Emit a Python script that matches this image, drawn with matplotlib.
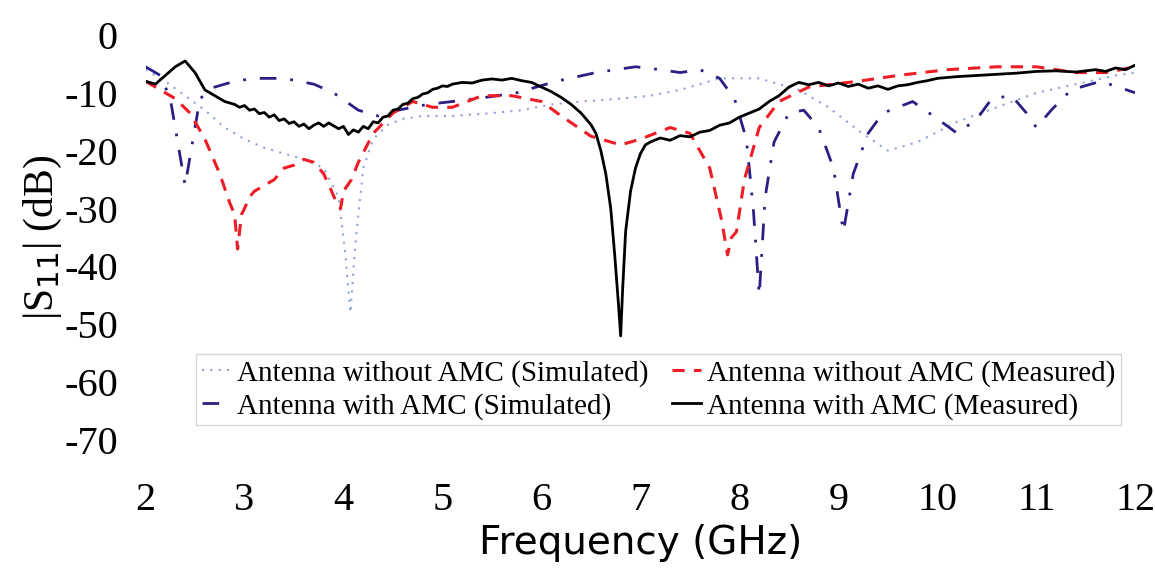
import matplotlib.pyplot as plt

# Antenna without AMC (Simulated) - light dotted
f_sim_no = [2.0, 2.2, 2.4, 2.6, 2.8, 3.0, 3.2, 3.4, 3.6, 3.8, 3.95, 4.02, 4.07, 4.12, 4.2, 4.3,
            4.45, 4.6, 4.8, 5.1, 5.5, 5.8, 6.1, 6.4, 6.8, 7.1, 7.4, 7.8, 8.2, 8.6, 8.9, 9.2,
            9.5, 9.8, 10.2, 10.6, 11.0, 11.4, 11.8, 12.0]
s_sim_no = [-6, -8, -10.5, -13, -16, -18, -19.5, -20.5, -21.5, -23, -28, -38, -48, -36, -23, -18,
            -15.5, -14.5, -14, -14, -13.5, -13, -12, -11.5, -11, -10.5, -9.5, -7.5, -7.5, -9.5, -12.5, -16.5,
            -20, -18.5, -15, -12.5, -10, -8.5, -7, -6.5]

# Antenna with AMC (Simulated) - dash-dot
f_sim_amc = [2.0, 2.15, 2.25, 2.33, 2.4, 2.47, 2.55, 2.7, 2.9, 3.1, 3.4, 3.7, 3.9, 4.15, 4.35, 4.55,
             4.85, 5.35, 5.75, 6.15, 6.55, 6.95, 7.2, 7.4, 7.6, 7.8, 7.95, 8.07, 8.14, 8.2, 8.26, 8.35,
             8.5, 8.65, 8.8, 8.95, 9.05, 9.15, 9.3, 9.45, 9.75, 10.0, 10.2, 10.4, 10.55, 10.75, 10.9,
             11.0, 11.15, 11.35, 11.65, 12.0]
s_sim_amc = [-5.5, -7, -11, -19, -26, -19, -11, -9, -8, -7.5, -7.5, -8.5, -10, -13, -14, -13,
             -12, -11, -10, -8, -6.5, -5.5, -6, -6.5, -6, -7.5, -11, -18, -30, -45, -28, -18.5,
             -13.5, -13, -16, -23, -34, -24, -17, -13.5, -11.5, -14.5, -17, -14.5, -11, -10.5, -13.5,
             -16, -13, -9.5, -8, -10]

# Antenna without AMC (Measured) - red dashed
f_meas_no = [2.0, 2.15, 2.3, 2.45, 2.6, 2.75, 2.85, 2.9, 2.93, 2.97, 3.0, 3.05, 3.1, 3.2, 3.3, 3.4,
             3.5, 3.6, 3.7, 3.8, 3.88, 3.93, 3.97, 4.0, 4.08, 4.15, 4.3, 4.5, 4.7, 4.9, 5.1, 5.4,
             5.7, 6.0, 6.2, 6.5, 6.8, 7.0, 7.3, 7.5, 7.7, 7.82, 7.88, 7.92, 7.97, 8.05, 8.2, 8.4,
             8.7, 9.2, 9.6, 10.1, 10.6, 11.0, 11.4, 11.7, 12.0]
s_meas_no = [-8, -9.5, -11, -13.5, -18, -24, -29, -31, -37, -31, -30, -28, -27, -26, -25, -23,
             -22.5, -21.5, -22, -24, -27, -29, -30, -27, -25, -22, -17, -13.5, -11.5, -12.5, -12.5, -10.5,
             -10.5, -11.5, -14, -17.5, -19, -18, -16, -17, -23, -32, -38, -35, -34, -25, -16, -11.5,
             -9, -8, -7, -6, -5.5, -5.5, -6.5, -6.5, -5.5]

# Antenna with AMC (Measured) - black solid, with its small ripples
f_meas_amc = [2.0, 2.1, 2.2, 2.3, 2.4, 2.5, 2.6, 2.7, 2.75, 2.8, 2.9, 2.95, 3.0, 3.05, 3.1, 3.15,
              3.2, 3.25, 3.3, 3.35, 3.4, 3.45, 3.5, 3.55, 3.6, 3.65, 3.7, 3.75, 3.8, 3.85, 3.9,
              3.95, 4.0, 4.05, 4.1, 4.15, 4.2, 4.25, 4.3, 4.35, 4.4, 4.45, 4.5, 4.55, 4.6, 4.65,
              4.7, 4.75, 4.8, 4.85, 4.9, 4.95, 5.0, 5.05, 5.1, 5.2, 5.3, 5.4, 5.5, 5.6, 5.7, 5.8,
              5.9, 6.0, 6.1, 6.2, 6.3, 6.4, 6.5, 6.55, 6.6, 6.65, 6.7, 6.74, 6.78, 6.8, 6.82, 6.85,
              6.9, 6.95, 7.0, 7.05, 7.1, 7.2, 7.3, 7.4, 7.5, 7.6, 7.7, 7.8, 7.9, 8.0, 8.1, 8.2,
              8.3, 8.4, 8.5, 8.6, 8.7, 8.8, 8.9, 9.0, 9.1, 9.2, 9.3, 9.4, 9.5, 9.6, 9.7, 9.8,
              9.9, 10.0, 10.2, 10.4, 10.6, 10.8, 11.0, 11.2, 11.4, 11.6, 11.7, 11.8, 11.9, 12.0]
s_meas_amc = [-8, -8.5, -7, -5.5, -4.5, -6.5, -9.5, -10.5, -11, -11.5, -12, -12.5, -12.2, -13, -12.8, -13.6,
              -13.4, -14.2, -13.8, -14.8, -14.5, -15.3, -15, -15.8, -15.4, -16.2, -15.6, -15.2, -15.8, -15.2, -15.7,
              -16.2, -15.8, -17.2, -16.4, -16.8, -15.8, -16.2, -15, -15.2, -14.2, -14, -13, -12.8, -12, -11.8,
              -11, -10.8, -10.2, -10, -9.4, -9.2, -8.8, -8.9, -8.5, -8.2, -8.3, -7.8, -7.6, -7.8, -7.5, -7.9,
              -8.2, -9, -9.8, -10.8, -12, -13.5, -15.5, -17, -20, -24, -30, -38, -47, -52, -44, -34,
              -27, -23, -20.5, -19, -18.5, -17.8, -18.2, -17.4, -17.6, -16.8, -16.5, -15.6, -15.2, -14.2, -13.5, -12.8,
              -11.5, -10.5, -9, -8.2, -8.6, -8.2, -8.8, -8.3, -8.9, -8.5, -9.2, -8.8, -9.4, -8.8, -8.6, -8.2,
              -7.9, -7.5, -7.2, -7, -6.8, -6.6, -6.3, -6.2, -6.4, -6, -6.3, -5.7, -6, -5.2]

x_ticks = [2, 3, 4, 5, 6, 7, 8, 9, 10, 11, 12]
y_ticks = [0, -10, -20, -30, -40, -50, -60, -70]

plt.rcParams['font.family'] = ['Liberation Serif', 'DejaVu Serif']
plt.rcParams['axes.unicode_minus'] = False

fig = plt.figure(figsize=(11.55, 5.73), dpi=100)
ax = fig.add_axes([0.126, 0.232, 0.857, 0.707])

ax.plot(f_sim_no, s_sim_no, color='#8fa3d6', linestyle=(0, (1, 3)), linewidth=1.5,
        label='Antenna without AMC (Simulated)')
ax.plot(f_sim_amc, s_sim_amc, color='#2b1f86', linestyle=(0, (6, 5, 1, 5)), linewidth=2,
        label='Antenna with AMC (Simulated)')
ax.plot(f_meas_no, s_meas_no, color='#ee1c25', linestyle=(0, (4, 3)), linewidth=2.2,
        label='Antenna without AMC (Measured)')
ax.plot(f_meas_amc, s_meas_amc, color='black', linewidth=2,
        label='Antenna with AMC (Measured)')

ax.set_xlim(2, 12)
ax.set_ylim(-70, 0)
ax.set_xticks(x_ticks)
ax.set_yticks(y_ticks)
ax.tick_params(axis='both', length=0, labelsize=29)
ax.tick_params(axis='x', pad=30)
ax.tick_params(axis='y', pad=20)
for s in ax.spines.values():
    s.set_visible(False)

ax.set_ylabel('|S$_{11}$| (dB)', fontsize=30, labelpad=0)
ax.set_xlabel('Frequency (GHz)', fontsize=28, family='DejaVu Sans', labelpad=4)

leg = ax.legend(loc='lower right', ncol=2, fontsize=21, frameon=True, fancybox=False,
                edgecolor='#cccccc', handlelength=1.0, handletextpad=0.2,
                columnspacing=0.8, borderpad=0.2, labelspacing=0.2,
                bbox_to_anchor=(1.0, 0.0))

fig.savefig('out.png', dpi=100)
